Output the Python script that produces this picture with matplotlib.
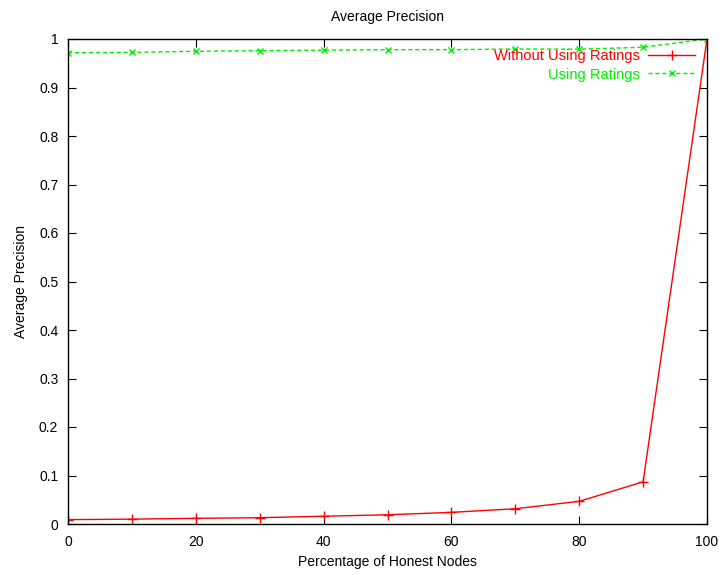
import matplotlib
matplotlib.use("Agg")
import matplotlib.pyplot as plt

plt.rcParams['font.family'] = ['Liberation Sans', 'DejaVu Sans']

x = [0, 10, 20, 30, 40, 50, 60, 70, 80, 90, 100]
without_ratings = [0.009, 0.010, 0.0117, 0.013, 0.016, 0.019, 0.024, 0.0315, 0.0467, 0.087, 1.0]
using_ratings = [0.9717, 0.9725, 0.9746, 0.976, 0.977, 0.978, 0.978, 0.9794, 0.979, 0.983, 1.0]
xticks = [0, 20, 40, 60, 80, 100]
yticks = [0, 0.1, 0.2, 0.3, 0.4, 0.5, 0.6, 0.7, 0.8, 0.9, 1]
ytick_labels = ['0', '0.1', '0.2', '0.3', '0.4', '0.5', '0.6', '0.7', '0.8', '0.9', '1']

fig = plt.figure(figsize=(7.19, 5.75), dpi=100)
ax = fig.add_axes([68/719, 1 - 524/575, (707 - 68)/719, (524 - 39)/575])

ax.plot(x, without_ratings, color='#ff0000', lw=1, marker='+', ms=7, mew=1,
        label='Without Using Ratings')
ax.plot(x, using_ratings, color='#00ee00', lw=1, ls=(0, (3, 2)), marker='x', ms=5, mew=1,
        label='Using Ratings')

ax.set_xlim(0, 100)
ax.set_ylim(0, 1)
ax.set_xticks(xticks)
ax.set_yticks(yticks)
ax.set_yticklabels(ytick_labels)
ax.tick_params(direction='in', length=6, width=0.8, top=True, right=True, labelsize=10)
ax.tick_params(axis='x', pad=8)
ax.tick_params(axis='y', pad=7)
for s in ax.spines.values():
    s.set_linewidth(1)

ax.set_title('Average Precision', fontsize=10, pad=13)
ax.set_xlabel('Percentage of Honest Nodes', fontsize=10, labelpad=4)
ax.set_ylabel('Average Precision', fontsize=10, labelpad=8)

leg = ax.legend(loc='upper right', bbox_to_anchor=(0.995, 0.997), frameon=False, markerfirst=False,
                fontsize=10.5, handlelength=3.2, labelspacing=0.3, borderaxespad=0.2,
                labelcolor='linecolor', handletextpad=0.6)
for t in leg.get_texts():
    t.set_ha('right')

fig.savefig('out.png', dpi=100)
